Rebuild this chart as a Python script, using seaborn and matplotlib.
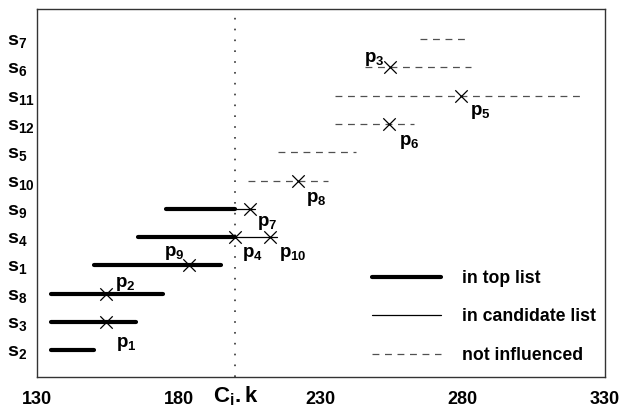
import matplotlib
matplotlib.use("Agg")
import matplotlib.pyplot as plt
import seaborn as sns
import pandas as pd
from matplotlib.lines import Line2D

# ---- data ----
rows = ["s2", "s3", "s8", "s1", "s4", "s9", "s10", "s5", "s12", "s11", "s6", "s7"]

top_rows = ["s2", "s3", "s8", "s1", "s4", "s9"]
top_start = [135, 135, 135, 150, 165.5, 175.5]
top_end = [150, 165, 174.5, 195, 200, 200]

cand_rows = ["s4", "s9"]
cand_start = [200, 200]
cand_end = [214.5, 207]

none_rows = ["s10", "s5", "s12", "s11", "s6", "s7"]
none_start = [204.5, 215, 235, 235, 245.5, 265]
none_end = [232.5, 242.5, 263, 323, 283, 282.5]

pt_names = ["p1", "p2", "p3", "p4", "p5", "p6", "p7", "p8", "p9", "p10"]
pt_rows = ["s3", "s8", "s6", "s4", "s11", "s12", "s9", "s10", "s1", "s4"]
pt_x = [154.5, 154.5, 254.5, 200, 279.5, 254, 205, 222, 183.5, 212]

cik = 200
xticks = [130, 180, 230, 280, 330]
legend_labels = ["in top list", "in candidate list", "not influenced"]

# ---- build tables ----
ypos = {r: i for i, r in enumerate(rows)}
recs = []
seg = 0
for kind, rr, ss, ee in [("top", top_rows, top_start, top_end),
                         ("cand", cand_rows, cand_start, cand_end),
                         ("none", none_rows, none_start, none_end)]:
    for r, s, e in zip(rr, ss, ee):
        recs.append(dict(seg=seg, kind=kind, x=s, y=ypos[r]))
        recs.append(dict(seg=seg, kind=kind, x=e, y=ypos[r]))
        seg += 1
segs = pd.DataFrame(recs)
pts = pd.DataFrame(dict(name=pt_names, x=pt_x, y=[ypos[r] for r in pt_rows]))

# ---- style ----
sns.set_theme(style="white", rc={"text.color": "black", "axes.labelcolor": "black",
                                 "xtick.color": "black", "ytick.color": "black"})
plt.rcParams["font.family"] = ["Liberation Sans", "DejaVu Sans"]
plt.rcParams["font.weight"] = "bold"
plt.rcParams["mathtext.fontset"] = "custom"
plt.rcParams["mathtext.rm"] = "Liberation Sans:bold"
plt.rcParams["mathtext.bf"] = "Liberation Sans:bold"
plt.rcParams["mathtext.it"] = "Liberation Sans:bold"

fig = plt.figure(figsize=(6.2, 4.09), dpi=100)
ax = fig.add_axes([0.0592, 0.0782, 0.9161, 0.8986])

gray = "#505050"
sns.lineplot(data=segs, x="x", y="y", units="seg", estimator=None,
             hue="kind", palette={"top": "black", "cand": "black", "none": gray},
             size="kind", sizes={"top": 3.0, "cand": 0.9, "none": 0.9},
             style="kind", dashes={"top": "", "cand": "", "none": (5.5, 4.5)},
             legend=False, ax=ax)

ax.axvline(cik, color="#333333", lw=1.2, linestyle=(0, (1, 5.5)), zorder=1)

sns.scatterplot(data=pts, x="x", y="y", marker="x", s=80, color="black",
                linewidth=0.9, ax=ax, zorder=5, legend=False)

offsets = {"p1": (7, -16, "left"), "p2": (6, 7, "left"), "p3": (-4, 6, "right"),
           "p4": (5, -12, "left"), "p5": (6, -12, "left"), "p6": (7, -13, "left"),
           "p7": (5, -10, "left"), "p8": (6, -13, "left"), "p9": (-3, 9, "right"),
           "p10": (7, -12, "left")}
for n, x, y in zip(pts["name"], pts["x"], pts["y"]):
    dx, dy, ha = offsets[n]
    ax.annotate(r"$\mathbf{p_{%s}}$" % n[1:], xy=(x, y), xytext=(dx, dy),
                textcoords="offset points", ha=ha, va="center", fontsize=13.5)

ax.set_xlim(130, 330)
ax.set_ylim(-0.95, 12.05)
ax.set_xticks(xticks)
ax.set_xticklabels([str(t) for t in xticks], fontsize=13, fontweight="bold")
ax.set_yticks(range(len(rows)))
ax.set_yticklabels([r"$\mathbf{s_{%s}}$" % r[1:] for r in rows], fontsize=14)
for lab in ax.get_yticklabels():
    lab.set_ha("left")
ax.tick_params(axis="x", direction="inout", length=12, width=1, color="#333333", pad=4)
ax.tick_params(axis="y", length=0, pad=21.4)
ax.set_xlabel("")
ax.set_ylabel("")
for sp in ax.spines.values():
    sp.set_color("#333333")
    sp.set_linewidth(1.0)

ax.annotate(r"$\mathbf{C_{i}.k}$", xy=(cik, 0), xycoords=("data", "axes fraction"),
            xytext=(0, -18.5), textcoords="offset points", ha="center", va="baseline",
            fontsize=16)

handles = [Line2D([], [], color="black", lw=3.0),
           Line2D([], [], color="black", lw=0.9),
           Line2D([], [], color=gray, lw=0.9, linestyle=(0, (5.5, 4.5)))]
ax.legend(handles, legend_labels, loc="lower right", bbox_to_anchor=(1.012, -0.008),
          frameon=False, handlelength=3.9, handletextpad=1.2,
          labelspacing=1.23, borderpad=0.4,
          prop={"weight": "bold", "size": 12.7})

fig.savefig("out.png", dpi=100)
